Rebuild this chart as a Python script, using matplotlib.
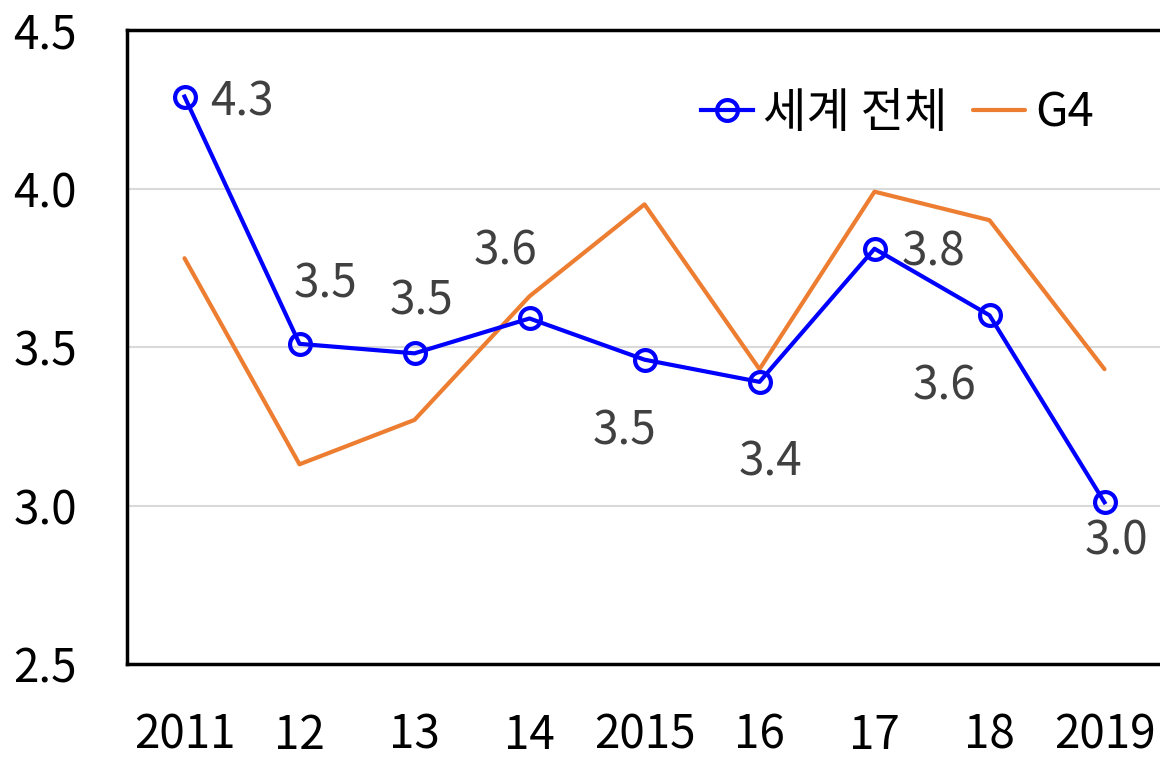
import matplotlib
matplotlib.use("Agg")
import matplotlib.pyplot as plt

plt.rcParams['font.family'] = ['Noto Sans CJK KR', 'DejaVu Sans']

years = ["2011", "12", "13", "14", "2015", "16", "17", "18", "2019"]
world = [4.29, 3.51, 3.48, 3.59, 3.46, 3.39, 3.81, 3.60, 3.01]
g4 = [3.78, 3.13, 3.27, 3.66, 3.95, 3.43, 3.99, 3.90, 3.43]
label_offsets = [(57, -6), (26, 60), (7, 52), (-24, 67), (-20, -72), (11, -80), (59, -4), (-45, -71), (12, -39)]

FS = 33

fig = plt.figure(figsize=(11.6, 7.58), dpi=100)
ax = fig.add_axes([127/1160, 94/758, 1035/1160, 634/758])

x = list(range(len(years)))
lw_w, = ax.plot(x, world, color='#0000FF', lw=3, marker='o', ms=15, mfc='none',
                mec='#0000FF', mew=3, label='세계 전체', zorder=4)
lg, = ax.plot(x, g4, color='#ED7D31', lw=3, label='G4', zorder=3, solid_capstyle='round')

for xi, v, (dx, dy) in zip(x, world, label_offsets):
    ax.annotate(f"{v:.1f}", (xi, v), xytext=(dx, dy), textcoords='offset pixels',
                ha='center', va='center', fontsize=FS, color='#404040', zorder=5)

ax.set_xlim(-0.5, len(years) - 0.5)
ax.set_ylim(2.5, 4.5)
ax.set_yticks([2.5, 3.0, 3.5, 4.0, 4.5])
ax.set_yticklabels(["2.5", "3.0", "3.5", "4.0", "4.5"])
ax.set_xticks(x)
ax.set_xticklabels(years)
ax.tick_params(axis='both', length=0, labelsize=FS, colors='black')
ax.tick_params(axis='y', pad=36)
ax.tick_params(axis='x', pad=34)

for yv in [3.0, 3.5, 4.0]:
    ax.axhline(yv, color='#D9D9D9', lw=1.5, zorder=1)

for s in ['left', 'top', 'bottom']:
    ax.spines[s].set_linewidth(2.5)
    ax.spines[s].set_color('black')
ax.spines['right'].set_visible(False)

leg = ax.legend(handles=[lw_w, lg], loc='center left', bbox_to_anchor=(0.555, 0.868), ncol=2,
                frameon=False, fontsize=34, handlelength=1.1, handletextpad=0.2,
                columnspacing=0.55, borderpad=0, borderaxespad=0)

fig.savefig("out.png", dpi=100)
